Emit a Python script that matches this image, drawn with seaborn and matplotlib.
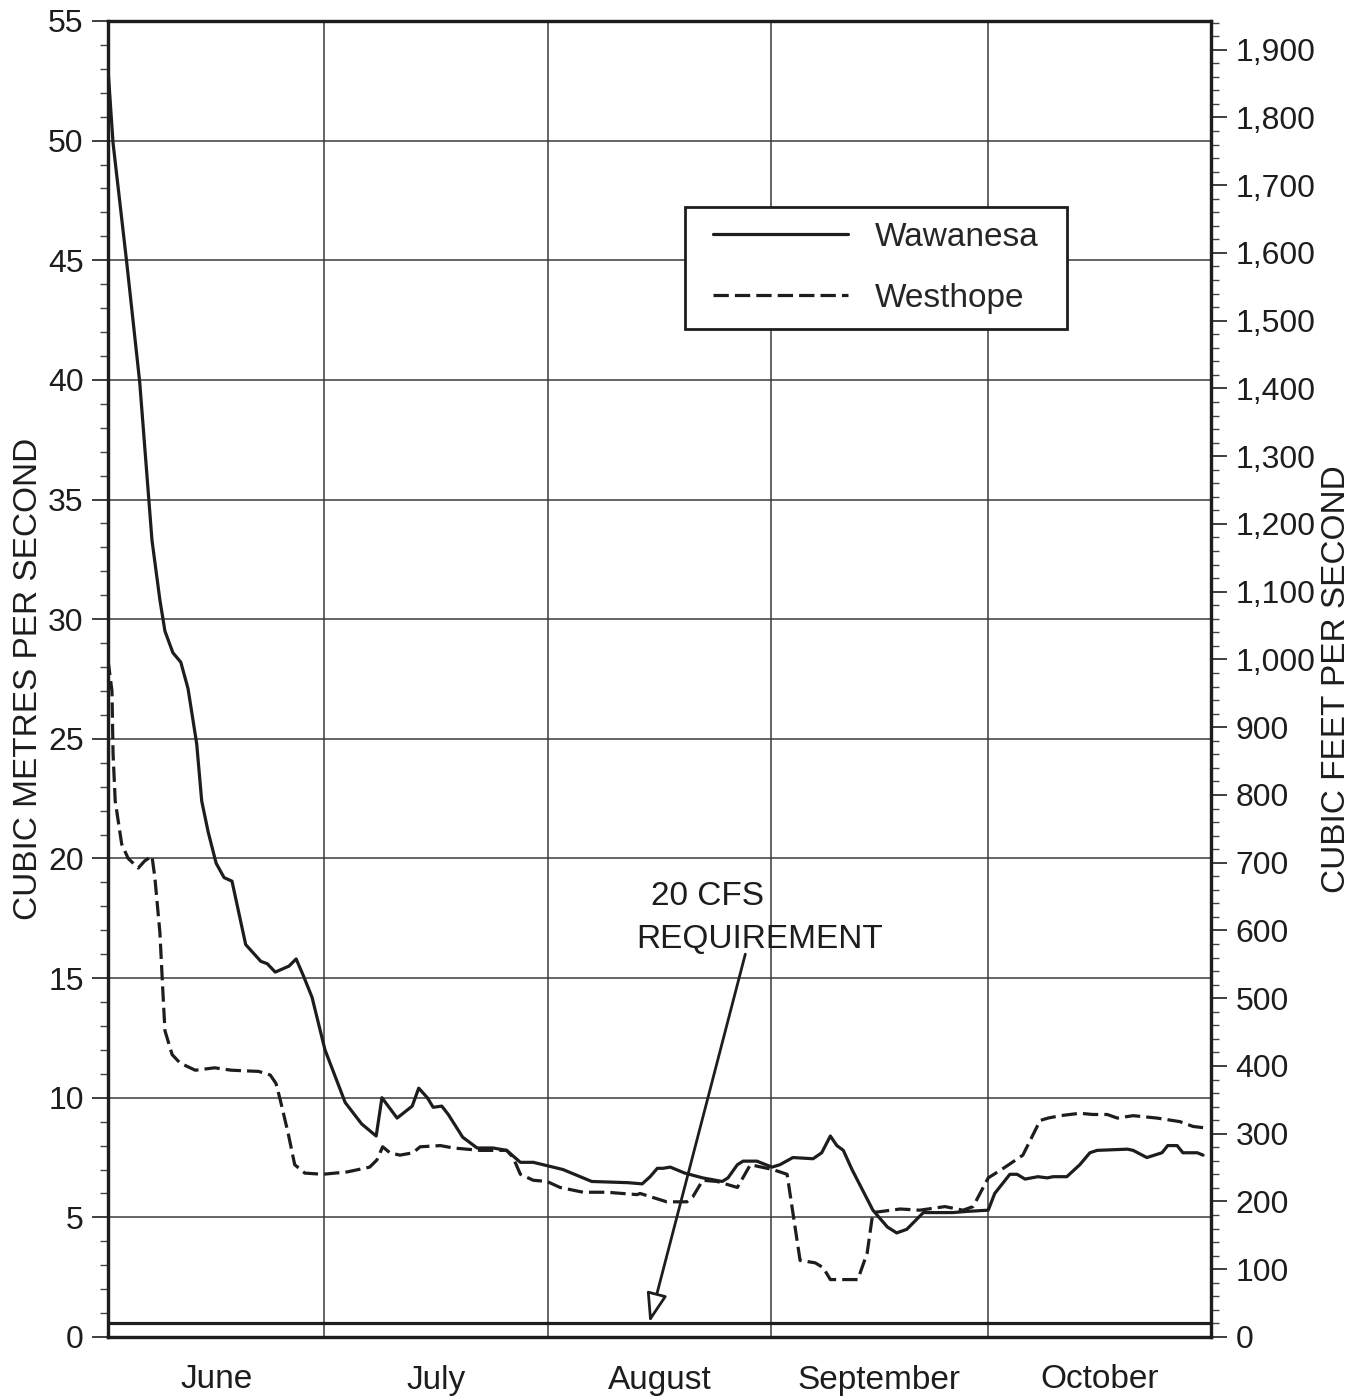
import pandas as pd
import numpy as np
import matplotlib
matplotlib.use("Agg")
import matplotlib.pyplot as plt
import matplotlib.dates as mdates
from matplotlib.ticker import MultipleLocator, FuncFormatter
from matplotlib.transforms import blended_transform_factory
from matplotlib.legend_handler import HandlerLine2D
from matplotlib.lines import Line2D
import seaborn as sns

sns.set_style("white")
plt.rcParams['font.family'] = ['Liberation Sans', 'DejaVu Sans']

# Days after June 1 and flow in cubic metres per second
waw_day = [0, 0.7, 2.6, 4.4, 6.1, 7.2, 7.9, 9.0, 10.1, 11.1, 12.3, 13.0, 13.9, 15.0, 16.1, 17.2,
           19.1, 20.3, 21.2, 22.1, 23.2, 25.1, 26.1, 27.1, 28.3, 30.1, 32.9, 35.2, 37.2, 38.0,
           40.1, 42.2, 43.1, 44.3, 45.1, 46.3, 47.2, 49.2, 51.2, 53.4, 55.3, 57.2, 59.0, 63.1,
           65.5, 67.1, 72.1, 74.1, 75.2, 76.2, 77.0, 78.0, 80.0, 82.5, 85.2, 86.0, 87.3, 88.1,
           90.0, 92.1, 93.2, 95.0, 97.8, 99.0, 100.2, 101.1, 102.0, 103.2, 106.1, 108.1, 109.4,
           110.8, 113.1, 115.8, 117.2, 119.2, 122.1, 123.0, 125.1, 126.1, 127.2, 129.0, 130.3,
           131.1, 133.0, 134.8, 136.2, 137.2, 141.4, 142.2, 144.1, 146.2, 147.0, 148.3, 149.1,
           151.1, 151.9]
waw_flow = [53.0, 49.9, 44.9, 39.9, 33.3, 30.8, 29.5, 28.6, 28.2, 27.1, 24.8, 22.4, 21.1, 19.8,
            19.2, 19.05, 16.4, 16.0, 15.7, 15.6, 15.25, 15.5, 15.8, 15.1, 14.2, 12.0, 9.8, 8.9,
            8.4, 10.0, 9.15, 9.65, 10.4, 10.0, 9.6, 9.65, 9.3, 8.35, 7.9, 7.9, 7.8, 7.3, 7.3,
            7.0, 6.7, 6.5, 6.45, 6.4, 6.7, 7.05, 7.05, 7.1, 6.85, 6.65, 6.5, 6.65, 7.2, 7.35,
            7.35, 7.1, 7.2, 7.5, 7.45, 7.7, 8.4, 8.0, 7.8, 7.0, 5.3, 4.6, 4.35, 4.5, 5.2, 5.2,
            5.2, 5.25, 5.3, 6.0, 6.8, 6.8, 6.6, 6.7, 6.65, 6.7, 6.7, 7.2, 7.7, 7.8, 7.85, 7.8,
            7.5, 7.7, 8.0, 8.0, 7.7, 7.7, 7.6]

wes_day = [0, 0.55, 0.7, 1.0, 1.9, 2.8, 4.2, 5.1, 6.1, 6.5, 7.2, 7.6, 7.9, 8.9, 10.0, 12.1, 14.8,
           17.1, 20.9, 22.5, 23.3, 23.9, 25.0, 25.9, 27.3, 29.8, 33.2, 36.3, 37.3, 38.1, 39.1,
           40.5, 42.3, 43.3, 46.1, 47.9, 51.6, 55.3, 56.2, 57.2, 59.0, 60.9, 62.7, 65.9, 69.2,
           73.4, 73.8, 77.5, 80.3, 81.1, 82.5, 84.5, 87.3, 89.1, 92.2, 94.2, 96.0, 98.1, 99.2,
           100.2, 101.3, 104.0, 105.3, 106.1, 109.9, 112.6, 116.1, 118.6, 120.0, 122.1, 124.2,
           126.9, 129.3, 130.4, 132.1, 134.8, 136.6, 138.6, 140.0, 142.2, 145.5, 148.7, 150.5,
           151.9]
wes_flow = [28.3, 27.0, 24.4, 22.4, 20.6, 20.0, 19.6, 19.9, 20.1, 19.2, 16.9, 14.5, 12.8, 11.8,
            11.45, 11.15, 11.25, 11.15, 11.1, 10.95, 10.6, 9.9, 8.5, 7.2, 6.85, 6.8, 6.9, 7.1,
            7.4, 7.95, 7.7, 7.6, 7.7, 7.95, 8.0, 7.9, 7.8, 7.8, 7.5, 6.8, 6.55, 6.5, 6.25, 6.05,
            6.05, 5.95, 6.0, 5.65, 5.65, 5.85, 6.55, 6.5, 6.25, 7.2, 7.0, 6.8, 3.2, 3.1, 2.9,
            2.4, 2.4, 2.4, 3.5, 5.2, 5.35, 5.3, 5.45, 5.3, 5.45, 6.65, 7.05, 7.6, 9.05, 9.15,
            9.25, 9.35, 9.3, 9.3, 9.15, 9.25, 9.15, 9.0, 8.8, 8.75]

months = ['June', 'July', 'August', 'September', 'October']
start = pd.Timestamp('2000-06-01')
CFS_PER_CMS = 35.3147
requirement_cfs = 20

waw = pd.DataFrame({'date': start + pd.to_timedelta(waw_day, unit='D'), 'flow': waw_flow})
wes = pd.DataFrame({'date': start + pd.to_timedelta(wes_day, unit='D'), 'flow': wes_flow})

ink = '#1f1c1d'
fs_tick = 23
fs_text = 24

fig = plt.figure(figsize=(13.68, 13.99), dpi=100)
ax = fig.add_axes([108/1368, 1 - 1337/1399, (1211-108)/1368, (1337-21)/1399])

# gridlines first
ax.grid(axis='both', which='major', color='#3a3a3a', lw=1.1)
ax.set_axisbelow(True)

sns.lineplot(data=waw, x='date', y='flow', ax=ax, color=ink, lw=2.3, label='Wawanesa')
sns.lineplot(data=wes, x='date', y='flow', ax=ax, color=ink, lw=2.3,
             linestyle=(0, (4.8, 1.9)), label='Westhope')

# 20 cfs requirement line
ax.axhline(requirement_cfs / CFS_PER_CMS, color=ink, lw=2.3, zorder=5)

ax.set_xlim(start, pd.Timestamp('2000-11-01'))
ax.set_ylim(0, 55)

# x axis: month boundaries as major, weekly minor ticks
ax.xaxis.set_major_locator(mdates.MonthLocator())
ax.xaxis.set_minor_locator(mdates.WeekdayLocator(byweekday=mdates.TH))
ax.xaxis.set_major_formatter(FuncFormatter(lambda v, p: ''))
ax.tick_params(axis='x', which='major', length=16, width=1.2, direction='out', color=ink)
ax.tick_params(axis='x', which='minor', length=9, width=1.0, direction='out', color=ink)
trans = blended_transform_factory(ax.transData, ax.transAxes)
for i, m in enumerate(months):
    m0 = mdates.date2num(pd.Timestamp(2000, 6 + i, 1))
    m1 = mdates.date2num(pd.Timestamp(2000, 7 + i, 1))
    ax.text((m0 + m1) / 2, -(1380 - 1337) / 1316, m, transform=trans, ha='center',
            va='center', fontsize=fs_text, color=ink)

# left axis
ax.yaxis.set_major_locator(MultipleLocator(5))
ax.yaxis.set_minor_locator(MultipleLocator(1))
ax.tick_params(axis='y', which='major', length=11.5, width=1.2, labelsize=fs_tick, colors=ink,
               direction='out', pad=6)
ax.tick_params(axis='y', which='minor', length=6, width=1.0, direction='out', color='#444444')
ax.set_ylabel('CUBIC METRES PER SECOND', fontsize=fs_text, color=ink, labelpad=3)
ax.set_xlabel('')

# right axis in cfs
bx = ax.twinx()
bx.set_ylim(0, 55 * CFS_PER_CMS)
bx.yaxis.set_major_locator(MultipleLocator(100))
bx.yaxis.set_minor_locator(MultipleLocator(20))
bx.yaxis.set_major_formatter(FuncFormatter(lambda v, p: '{:,.0f}'.format(v)))
bx.tick_params(axis='y', which='major', length=11.5, width=1.2, labelsize=fs_tick, colors=ink,
               direction='out', pad=6)
bx.tick_params(axis='y', which='minor', length=6, width=1.0, direction='out', color='#444444')
bx.set_ylabel('CUBIC FEET PER SECOND', fontsize=fs_text, color=ink, labelpad=4)

for a in (ax, bx):
    for s in a.spines.values():
        s.set_linewidth(2.3)
        s.set_color(ink)
        s.set_visible(True)

# legend: expanded box, line samples inset a little from the frame
lw_box, lh_box = 382 / 1103, 122 / 1316
leg = ax.legend(loc='upper left', bbox_to_anchor=(0.523, 0.859 - lh_box, lw_box, lh_box),
                mode='expand', fontsize=fs_text, frameon=True, fancybox=False, edgecolor=ink,
                framealpha=1, handlelength=4.45, handletextpad=0.8, labelspacing=0.91,
                borderpad=0.45, borderaxespad=0,
                handler_map={Line2D: HandlerLine2D(xpad=0.4)})
leg.get_frame().set_linewidth(2.0)
leg.set_zorder(10)

# annotation for the requirement
ax.text(start + pd.Timedelta(days=83.1), 18.4, '20 CFS', ha='center', va='center',
        fontsize=fs_text, color=ink)
ax.text(start + pd.Timedelta(days=90.4), 16.6, 'REQUIREMENT', ha='center', va='center',
        fontsize=fs_text, color=ink)
ax.annotate('', xy=(start + pd.Timedelta(days=75.1), 0.6),
            xytext=(start + pd.Timedelta(days=88.4), 16.0),
            arrowprops=dict(arrowstyle='-|>,head_length=1.2,head_width=0.42', fc='white',
                            ec=ink, lw=2.0, mutation_scale=15, shrinkA=0, shrinkB=0))

fig.savefig('out.png', dpi=100)
